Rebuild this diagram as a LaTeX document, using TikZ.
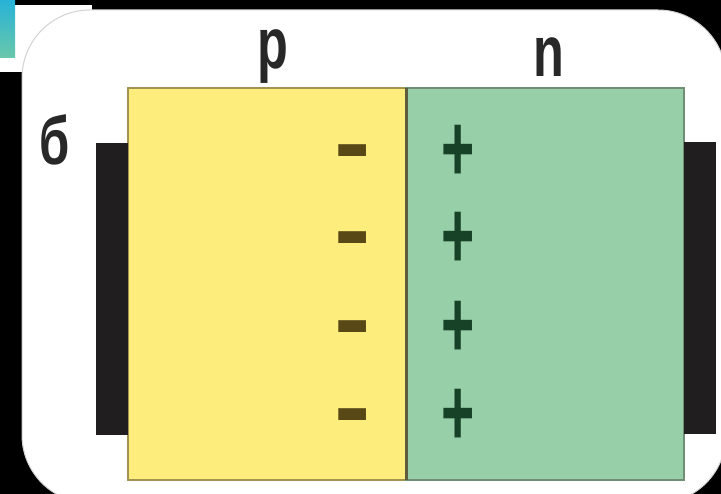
\documentclass[tikz,border=0pt]{standalone}
\usepackage{fontspec}
\setmainfont{Liberation Sans}
\usepackage{graphicx}
\usetikzlibrary{positioning}

\definecolor{pfill}{RGB}{252,237,124}
\definecolor{pedge}{RGB}{160,148,80}
\definecolor{nfill}{RGB}{151,207,168}
\definecolor{nedge}{RGB}{112,142,118}
\definecolor{junction}{RGB}{92,92,62}
\definecolor{contact}{RGB}{32,30,30}
\definecolor{minuscol}{RGB}{88,72,22}
\definecolor{pluscol}{RGB}{24,66,40}
\definecolor{labelcol}{RGB}{40,40,40}
\definecolor{iconcyan}{RGB}{40,178,215}
\definecolor{iconteal}{RGB}{105,200,170}

\newcommand{\condensed}[2]{\scalebox{#1}[1]{#2}}
\newcommand{\minussign}{\raisebox{-36.7pt}[5.5pt][5.5pt]{\scalebox{0.92}[1.8]{−}}}
\newcommand{\plussign}{\scalebox{0.95}[1.6]{+}}

\begin{document}
\begin{tikzpicture}[
  x=1pt, y=-1pt,
  every node/.style={inner sep=0pt, outer sep=0pt},
  region/.style={draw, line width=2.5pt, minimum width=278pt, minimum height=392pt},
  contactbar/.style={fill=contact, minimum width=32pt, minimum height=292pt},
  sidelabel/.style={font=\fontsize{72}{72}\selectfont\bfseries, text=labelcol, anchor=base},
  charge/.style={font=\fontsize{60}{60}\selectfont\bfseries}
]
\useasboundingbox (0,0) rectangle (721,494);
\fill[black] (0,0) rectangle (721,494);

% corner of the icon above
\fill[white] (0,5) rectangle (92,72);
\shade[top color=iconcyan, bottom color=iconteal] (0,0) rectangle (15,58);

% card
\draw[fill=white, draw=gray!35, line width=1pt, rounded corners=68pt] (22,10) rectangle (726,503);

% p and n regions
\node[region, fill=pfill, draw=pedge] (P) at (267,284) {};
\node[region, fill=nfill, draw=nedge, right=0pt of P] (N) {};
\draw[junction, line width=3pt] (P.north east) -- (P.south east);

% contacts
\node[contactbar, left=0pt of P, yshift=-5pt] (CL) {};
\node[contactbar, right=0pt of N, yshift=-4pt] (CR) {};

% labels
\node[sidelabel] (Lp) at (273,69) {\condensed{0.7}{p}};
\node[sidelabel] (Ln) at (549,77) {\condensed{0.7}{n}};
\node[sidelabel, font=\fontsize{68}{68}\selectfont\bfseries] (Lb) at (55,165) {\condensed{0.72}{б}};

% charges at the junction
\foreach \y [count=\i] in {150,237,326,414} {
  \node[charge, text=minuscol] (neg\i) at (353,\y) {\minussign};
  \node[charge, text=pluscol] (pos\i) at (458,\y+3) {\plussign};
}
\end{tikzpicture}
\end{document}
